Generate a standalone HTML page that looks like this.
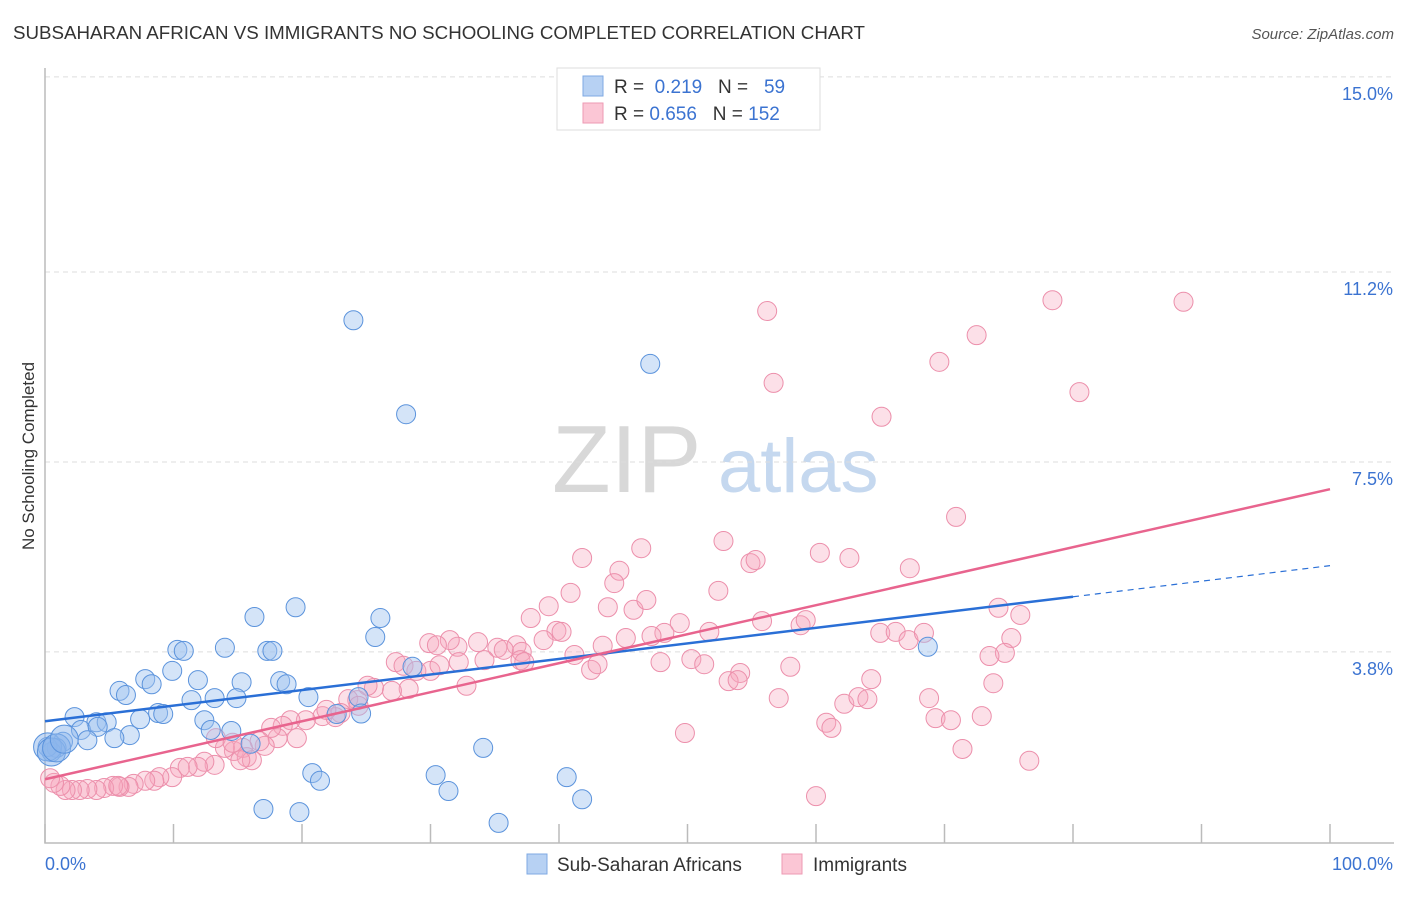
<!DOCTYPE html>
<html><head><meta charset="utf-8"><style>
body{margin:0;background:#fff;font-family:"Liberation Sans",sans-serif;}
svg text{font-family:"Liberation Sans",sans-serif;}
</style></head><body>
<svg id="chart" width="1406" height="892" xmlns="http://www.w3.org/2000/svg">
<text x="13" y="39" font-size="18" fill="#333" textLength="852" lengthAdjust="spacingAndGlyphs">SUBSAHARAN AFRICAN VS IMMIGRANTS NO SCHOOLING COMPLETED CORRELATION CHART</text>
<text x="1394" y="39" font-size="15" fill="#555" text-anchor="end" font-style="italic">Source: ZipAtlas.com</text>
<text transform="translate(34,456) rotate(-90)" font-size="17" fill="#333" text-anchor="middle">No Schooling Completed</text>
<g>
<text x="552" y="492" font-size="96" fill="#d8d8d8" font-family="Liberation Serif,serif">ZIP</text>
<text x="718" y="492" font-size="76" fill="#c5d8ef">atlas</text>
</g>
<g id="grid"></g><g id="axes"></g><g id="pts"></g><g id="lines"></g>
<g>
<rect x="557" y="68" width="263" height="62" fill="#fff" stroke="#ddd"/>
<rect x="583" y="76" width="20" height="20" fill="#b7d1f3" stroke="#7fa9e3"/>
<rect x="583" y="103" width="20" height="20" fill="#fbc6d5" stroke="#ee9ab3"/>
<text x="614" y="93" font-size="19" fill="#333">R = <tspan fill="#3b73d1">&#160;0.219</tspan>&#160;&#160;&#160;N = <tspan fill="#3b73d1">&#160;&#160;59</tspan></text>
<text x="614" y="120" font-size="19" fill="#333">R = <tspan fill="#3b73d1">0.656</tspan>&#160;&#160;&#160;N = <tspan fill="#3b73d1">152</tspan></text>
</g>
<g>
<rect x="527" y="854" width="20" height="20" fill="#b7d1f3" stroke="#7fa9e3"/>
<text x="557" y="871" font-size="19" fill="#333">Sub-Saharan Africans</text>
<rect x="782" y="854" width="20" height="20" fill="#fbc6d5" stroke="#ee9ab3"/>
<text x="813" y="871" font-size="19" fill="#333">Immigrants</text>
</g>
</svg>
<script>
const yTicks=[3.8,7.5,11.2,15.0];
const yTickLabels=["3.8%","7.5%","11.2%","15.0%"];
const xTicks=[0,10,20,30,40,50,60,70,80,90,100];
const blueX=[24.0,47.1,28.1,16.3,19.5,26.1,25.7,10.3,10.8,14.0,17.3,17.7,7.8,8.3,9.9,11.9,5.8,6.3,15.3,18.3,18.8,20.5,24.4,11.4,13.2,14.9,2.3,4.0,4.8,2.8,4.1,7.4,8.8,9.2,12.4,12.9,14.5,6.6,5.4,3.3,1.4,0.9,0.5,0.2,16.0,34.1,68.7,28.6,22.7,20.8,21.4,30.4,31.4,40.6,41.8,17.0,19.8,35.3,24.6];
const blueY=[10.26,9.41,8.43,4.48,4.67,4.46,4.09,3.84,3.82,3.88,3.82,3.82,3.27,3.17,3.43,3.25,3.04,2.96,3.21,3.23,3.17,2.92,2.92,2.86,2.90,2.90,2.53,2.43,2.43,2.28,2.34,2.49,2.61,2.59,2.47,2.28,2.26,2.18,2.12,2.08,2.05,1.93,1.85,1.95,2.01,1.93,3.90,3.51,2.59,1.44,1.29,1.40,1.09,1.36,0.93,0.74,0.68,0.47,2.60];
const blueBig=[0.2,0.5,0.9,1.5];
const blueBigY=[1.95,1.85,1.93,2.1];
const pinkX=[56.2,78.4,88.6,72.5,69.6,56.7,80.5,65.1,70.9,52.8,46.4,41.8,60.3,62.6,54.9,55.3,67.3,44.7,44.3,40.9,39.2,43.8,45.8,46.8,52.4,37.8,74.2,75.9,55.8,58.8,59.2,39.8,40.2,49.4,51.7,48.2,47.2,45.2,43.4,41.2,38.8,36.7,37.1,35.2,35.7,33.7,32.1,31.5,29.9,30.5,27.3,27.9,28.9,30.0,30.7,32.2,34.2,37.0,37.3,42.5,43.0,47.9,50.3,51.3,54.1,53.2,53.9,58.0,65.0,66.2,67.2,68.4,75.2,74.7,73.5,73.8,64.3,62.2,63.3,64.0,57.1,68.8,69.3,70.5,72.9,60.8,61.2,49.8,71.4,76.6,60.0,32.8,28.3,27.0,25.6,25.1,24.3,23.6,24.4,23.0,21.6,22.6,20.3,19.1,18.5,18.1,19.6,21.9,17.6,17.1,16.7,14.7,15.4,14.0,13.3,14.6,15.7,16.1,15.2,13.2,12.4,11.9,10.5,11.1,9.9,8.9,8.5,7.8,6.9,6.5,5.8,5.3,4.6,4.0,3.3,2.7,2.1,1.6,1.2,0.7,0.4,5.7];
const pinkY=[10.44,10.65,10.62,9.97,9.45,9.04,8.86,8.38,6.43,5.96,5.82,5.63,5.73,5.63,5.53,5.59,5.43,5.38,5.14,4.95,4.69,4.67,4.62,4.81,4.99,4.46,4.66,4.52,4.40,4.32,4.42,4.21,4.19,4.36,4.19,4.17,4.11,4.07,3.92,3.74,4.03,3.93,3.80,3.88,3.84,3.99,3.90,4.03,3.97,3.93,3.60,3.53,3.43,3.43,3.54,3.60,3.64,3.64,3.60,3.45,3.56,3.60,3.66,3.56,3.39,3.23,3.25,3.51,4.17,4.19,4.03,4.17,4.07,3.78,3.72,3.19,3.27,2.79,2.92,2.88,2.90,2.90,2.51,2.47,2.55,2.42,2.32,2.22,1.91,1.68,0.99,3.14,3.08,3.04,3.10,3.14,2.86,2.88,2.75,2.61,2.55,2.53,2.47,2.47,2.36,2.12,2.12,2.67,2.32,1.97,2.06,1.87,1.93,1.93,2.12,2.03,1.75,1.69,1.69,1.60,1.66,1.56,1.54,1.56,1.36,1.36,1.29,1.29,1.23,1.17,1.17,1.19,1.15,1.11,1.13,1.11,1.11,1.11,1.19,1.25,1.34,1.19];
const blueFit=[2.45,0.0303];
const pinkFit=[1.32,0.0565];
const NS="http://www.w3.org/2000/svg";
const X=v=>45+v*12.85, Y=v=>847-v*51.34;
function mk(p,t,a){const e=document.createElementNS(NS,t);for(const k in a)e.setAttribute(k,a[k]);p.appendChild(e);return e;}
const grid=document.getElementById('grid'),axes=document.getElementById('axes'),pts=document.getElementById('pts'),lines=document.getElementById('lines');
yTicks.forEach((t,i)=>{
 const l=mk(grid,'line',{x1:45,x2:1394,y1:Y(t),y2:Y(t),stroke:'#ddd','stroke-dasharray':'5,4'});
 
 
 const tx=mk(grid,'text',{x:1393,y:Y(t)+23,'font-size':18,fill:'#3b73d1','text-anchor':'end'});
 tx.textContent=yTickLabels[i];
 
 
});
const ax=mk(axes,'path',{d:'M45,68V843H1394',fill:'none',stroke:'#bbb','stroke-width':1.5});


xTicks.forEach(t=>{
 const tk=mk(axes,'line',{x1:X(t),x2:X(t),y1:824,y2:843,stroke:'#bbb','stroke-width':1.5});
 
 
});
const xl0=mk(axes,'text',{x:45,y:870,'font-size':18,fill:'#3b73d1'});xl0.textContent='0.0%';


const xl1=mk(axes,'text',{x:1393,y:870,'font-size':18,fill:'#3b73d1','text-anchor':'end'});xl1.textContent='100.0%';


pinkX.forEach((x,i)=>{
 const c=mk(pts,'circle',{cx:X(x),cy:Y(pinkY[i]),r:9.5,fill:'rgba(246,166,190,0.35)',stroke:'#ec8fab','stroke-width':1});
 
 
});
blueX.forEach((x,i)=>{
 const c=mk(pts,'circle',{cx:X(x),cy:Y(blueY[i]),r:9.5,fill:'rgba(160,196,240,0.45)',stroke:'#5b93dc','stroke-width':1});
 
 
});
blueBig.forEach((x,i)=>{
 const c=mk(pts,'circle',{cx:X(x),cy:Y(blueBigY[i]),r:14,fill:'rgba(140,182,236,0.5)',stroke:'#5b93dc','stroke-width':1});
 
 
});
const bl=mk(lines,'line',{x1:X(0),y1:Y(blueFit[0]),x2:X(80),y2:Y(blueFit[0]+blueFit[1]*80),stroke:'#2a6fd6','stroke-width':2.5});


const bd=mk(lines,'line',{x1:X(80),y1:Y(blueFit[0]+blueFit[1]*80),x2:X(100),y2:Y(blueFit[0]+blueFit[1]*100),stroke:'#2a6fd6','stroke-width':1.2,'stroke-dasharray':'6,5'});


const pl=mk(lines,'line',{x1:X(0),y1:Y(pinkFit[0]),x2:X(100),y2:Y(pinkFit[0]+pinkFit[1]*100),stroke:'#e8648e','stroke-width':2.5});


</script>
</body></html>
